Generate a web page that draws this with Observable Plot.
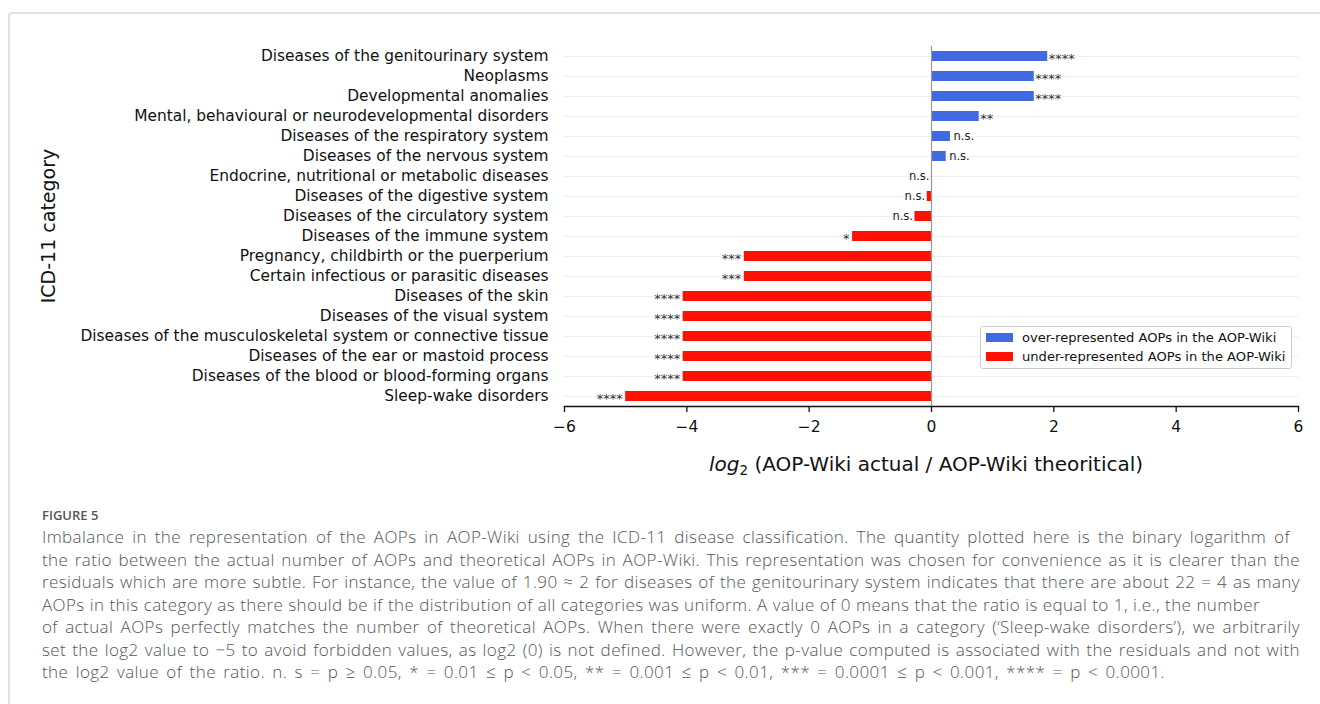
<!DOCTYPE html>
<html>
<head>
<meta charset="utf-8">
<script src="https://cdn.jsdelivr.net/npm/d3@7"></script>
<script src="https://cdn.jsdelivr.net/npm/@observablehq/plot@0.6"></script>
<style>
  html, body { margin: 0; padding: 0; background: #fff; }
  body { width: 1320px; height: 704px; position: relative; overflow: hidden; font-family: "DejaVu Sans", sans-serif; }
  #frame { position: absolute; left: 8px; top: 12px; right: -10px; bottom: -10px; border-top: 2px solid #e2e2e2; border-left: 2px solid #e2e2e2; border-top-left-radius: 4px; }
  #chart { position: absolute; left: 0; top: 0; }
  #chart svg, #chart svg text { font-family: "DejaVu Sans", sans-serif !important; }
  #ylabel { position: absolute; left: 48px; top: 226px; transform: translate(-50%, -50%) rotate(-90deg); font-size: 19px; color: #111; white-space: nowrap; }
  #xlabel { position: absolute; left: 926px; top: 464px; transform: translate(-50%, -50%); font-size: 20px; color: #111; white-space: nowrap; }
  #xlabel sub { font-size: 13.5px; vertical-align: -4px; line-height: 0; }
  #legend { position: absolute; left: 980px; top: 326px; width: 310px; height: 41px; border: 1px solid #ccc; border-radius: 3px; background: rgba(255,255,255,0.9); font-size: 13.1px; color: #111; }
  .lg { position: absolute; left: 5px; white-space: nowrap; display: flex; align-items: center; }
  .sw { width: 27px; height: 9px; margin-right: 9px; display: inline-block; }
  #caption { position: absolute; left: 42px; top: 506px; font-family: "Open Sans", sans-serif; color: #555; }
  #fig { font-size: 13px; font-weight: 600; color: #555; margin-bottom: 2px; }
  .cl { font-size: 17px; font-weight: 300; line-height: 22.5px; white-space: nowrap; letter-spacing: 0.4px; text-align: justify; text-align-last: justify; }
</style>
</head>
<body>
<div id="frame"></div>
<div id="chart"></div>
<div id="ylabel">ICD-11 category</div>
<div id="xlabel"><i>log</i><sub>2</sub> (AOP-Wiki actual / AOP-Wiki theoritical)</div>
<div id="legend"></div>
<div id="caption"></div>
<script>
const categories = [
  "Diseases of the genitourinary system",
  "Neoplasms",
  "Developmental anomalies",
  "Mental, behavioural or neurodevelopmental disorders",
  "Diseases of the respiratory system",
  "Diseases of the nervous system",
  "Endocrine, nutritional or metabolic diseases",
  "Diseases of the digestive system",
  "Diseases of the circulatory system",
  "Diseases of the immune system",
  "Pregnancy, childbirth or the puerperium",
  "Certain infectious or parasitic diseases",
  "Diseases of the skin",
  "Diseases of the visual system",
  "Diseases of the musculoskeletal system or connective tissue",
  "Diseases of the ear or mastoid process",
  "Diseases of the blood or blood-forming organs",
  "Sleep-wake disorders"
];
const log2Ratio = [1.90, 1.68, 1.68, 0.78, 0.31, 0.24, 0.0, -0.07, -0.27, -1.29, -3.06, -3.06, -4.06, -4.06, -4.06, -4.06, -4.06, -5.0];
const significance = ["****", "****", "****", "**", "n.s.", "n.s.", "n.s.", "n.s.", "n.s.", "*", "***", "***", "****", "****", "****", "****", "****", "****"];
const xTicks = [-6, -4, -2, 0, 2, 4, 6];
const legendLabels = ["over-represented AOPs in the AOP-Wiki", "under-represented AOPs in the AOP-Wiki"];
const colors = ["#4169e1", "#ff1100"];
const captionHead = "FIGURE 5";
const captionLines = [
  "Imbalance in the representation of the AOPs in AOP-Wiki using the ICD-11 disease classification. The quantity plotted here is the binary logarithm of",
  "the ratio between the actual number of AOPs and theoretical AOPs in AOP-Wiki. This representation was chosen for convenience as it is clearer than the",
  "residuals which are more subtle. For instance, the value of 1.90 \u2248 2 for diseases of the genitourinary system indicates that there are about 22 = 4 as many",
  "AOPs in this category as there should be if the distribution of all categories was uniform. A value of 0 means that the ratio is equal to 1, i.e., the number",
  "of actual AOPs perfectly matches the number of theoretical AOPs. When there were exactly 0 AOPs in a category (\u2018Sleep-wake disorders\u2019), we arbitrarily",
  "set the log2 value to \u22125 to avoid forbidden values, as log2 (0) is not defined. However, the p-value computed is associated with the residuals and not with",
  "the log2 value of the ratio. n. s = p \u2265 0.05, * = 0.01 \u2264 p < 0.05, ** = 0.001 \u2264 p < 0.01, *** = 0.0001 \u2264 p < 0.001, **** = p < 0.0001."
];
const captionLineWidths = [1248, 1258, 1258, 1218, 1258, 1258, 1123];

const data = categories.map((c, i) => ({cat: c, v: log2Ratio[i], sig: significance[i], grp: log2Ratio[i] > 0 ? legendLabels[0] : legendLabels[1]}));
const isStar = d => d.sig.startsWith("*");

const plot = Plot.plot({
  width: 1320,
  height: 480,
  marginLeft: 564,
  marginRight: 22,
  marginTop: 46,
  marginBottom: 74,
  style: {fontFamily: "'DejaVu Sans', sans-serif", fontSize: "15.4px", color: "#111", background: "transparent"},
  x: {domain: [-6, 6], ticks: xTicks, label: null},
  y: {domain: categories, paddingInner: 0.5, paddingOuter: 0.25, label: null},
  color: {domain: legendLabels, range: colors},
  marks: [
    Plot.gridY({stroke: "#efefef", strokeOpacity: 1, strokeWidth: 1}),
    Plot.barX(data, {y: "cat", x: "v", fill: "grp"}),
    Plot.ruleX([0], {stroke: "#999", strokeWidth: 1.2}),
    Plot.text(data.filter(d => d.v > 0 && isStar(d)), {y: "cat", x: "v", text: "sig", textAnchor: "start", dx: 1, dy: 2, fontSize: 13, fill: "#333"}),
    Plot.text(data.filter(d => d.v > 0 && !isStar(d)), {y: "cat", x: "v", text: "sig", textAnchor: "start", dx: 3, fontSize: 11.5, fill: "#222"}),
    Plot.text(data.filter(d => d.v <= 0 && isStar(d)), {y: "cat", x: "v", text: "sig", textAnchor: "end", dx: -3, dy: 2, fontSize: 13, fill: "#333"}),
    Plot.text(data.filter(d => d.v <= 0 && !isStar(d)), {y: "cat", x: "v", text: "sig", textAnchor: "end", dx: -2, fontSize: 11.5, fill: "#222"}),
    Plot.axisX({ticks: xTicks, tickSize: 6, tickPadding: 8, fontSize: 15.5, label: null, strokeWidth: 1.3}),
    Plot.axisY({tickSize: 0, tickPadding: 16, fontSize: 15.4, label: null}),
    Plot.frame({anchor: "bottom", stroke: "#111", strokeWidth: 1.4})
  ]
});
document.getElementById("chart").appendChild(plot);

const lg = document.getElementById("legend");
legendLabels.forEach((l, i) => {
  const row = document.createElement("div");
  row.className = "lg";
  row.style.top = (3 + i * 19) + "px";
  row.innerHTML = `<span class="sw" style="background:${colors[i]}"></span><span>${l}</span>`;
  lg.appendChild(row);
});

const cap = document.getElementById("caption");
const h = document.createElement("div"); h.id = "fig"; h.textContent = captionHead; cap.appendChild(h);
captionLines.forEach((t, i) => { const d = document.createElement("div"); d.className = "cl"; d.style.width = captionLineWidths[i] + "px"; d.textContent = t; cap.appendChild(d); });
</script>
</body>
</html>
